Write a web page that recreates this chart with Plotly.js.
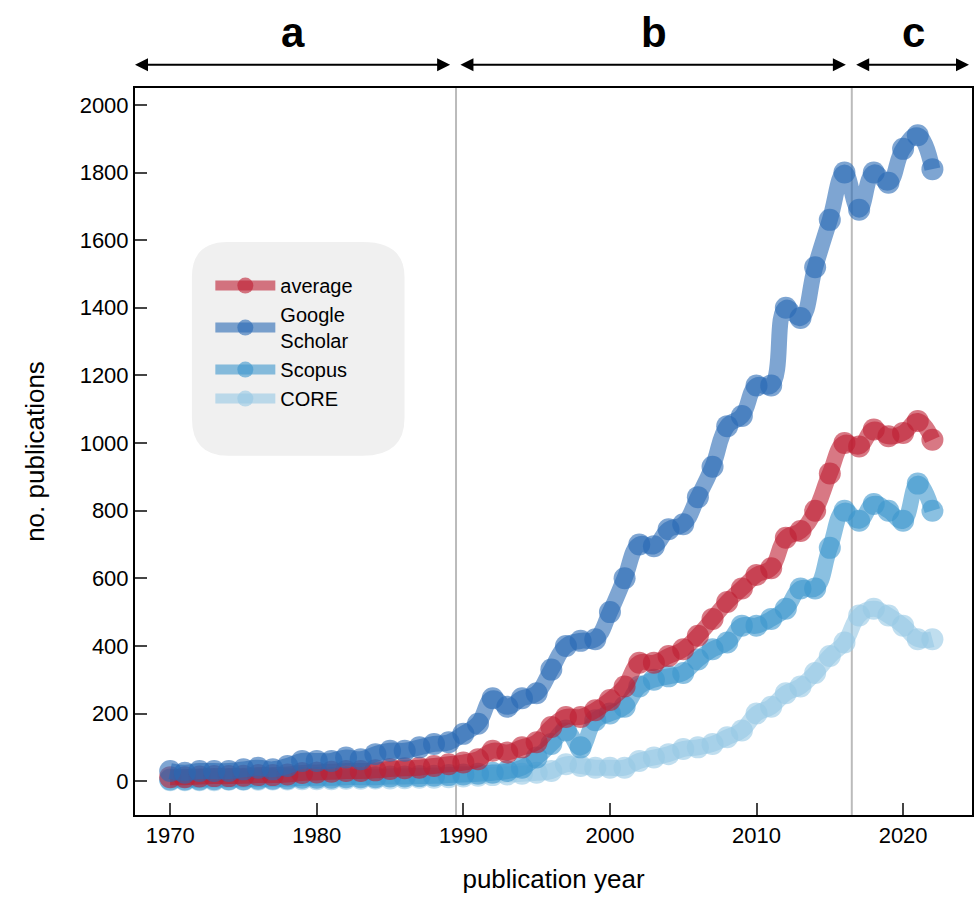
<!DOCTYPE html>
<html>
<head>
<meta charset="utf-8">
<script src="https://cdn.plot.ly/plotly-3.0.1.min.js"></script>
<style>body{margin:0}#chart{width:975px;height:924px}</style>
</head>
<body>
<div id="chart"></div>
<script>
const years = [];
for (let y = 1970; y <= 2022; y++) years.push(y);

const scholar = [30,25,30,30,30,35,40,35,45,60,60,60,70,65,80,90,90,100,110,115,
  140,170,245,220,245,260,330,400,415,420,500,600,700,695,745,760,840,930,1050,1080,
  1170,1170,1400,1370,1520,1660,1800,1690,1800,1770,1870,1910,1810];
const average = [12,12,14,15,15,16,18,18,20,24,26,28,30,30,32,36,38,40,45,50,
  55,65,90,85,100,115,160,190,190,210,240,280,350,350,370,390,430,480,530,570,
  610,630,720,740,800,910,1000,990,1040,1020,1030,1065,1010];
const scopus = [5,5,5,6,6,6,7,7,8,10,10,10,12,12,12,14,14,15,16,18,
  20,22,25,30,40,70,110,150,100,180,200,220,280,300,310,320,360,390,410,460,
  460,480,510,570,570,690,800,770,820,800,770,880,800];
const core = [3,3,3,3,4,4,4,5,5,6,6,6,7,7,8,8,9,10,10,12,
  14,16,18,20,22,25,30,50,45,40,40,40,60,70,80,95,100,110,130,150,
  200,220,260,280,320,370,410,490,510,490,460,420,420];

const names = ["average", "Google<br>Scholar", "Scopus", "CORE"];
const colors = ["rgba(190,30,50,0.6)", "rgba(40,105,180,0.6)", "rgba(60,150,205,0.6)", "rgba(150,200,228,0.6)"];
const series = [average, scholar, scopus, core];

const data = [];
// draw order: CORE at bottom, then Scopus, average, Scholar on top
[3, 2, 0, 1].forEach(i => {
  data.push({
    x: years, y: series[i], name: names[i], type: "scatter", mode: "lines+markers",
    line: {color: colors[i], width: 16, shape: "spline", smoothing: 1.3},
    marker: {color: colors[i], size: 22},
    legendrank: i
  });
});

const annotations = [
  {x: 1967.6, ax: 1989.2, lbl: "a", lx: 1978.4},
  {x: 1989.8, ax: 2016.2, lbl: "b", lx: 2003.0},
  {x: 2016.8, ax: 2024.6, lbl: "c", lx: 2020.7}
].flatMap(a => [
  {xref: "x", yref: "paper", axref: "x", ayref: "pixel", x: a.x, y: 1.032, ax: a.ax, ay: 0,
   text: "", showarrow: true, arrowhead: 2, startarrowhead: 2, arrowside: "end+start",
   arrowwidth: 2, arrowsize: 1.3, startarrowsize: 1.3, arrowcolor: "#000"},
  {xref: "x", yref: "paper", x: a.lx, y: 1.112, text: "<b>" + a.lbl + "</b>", showarrow: false,
   font: {size: 42, color: "#000", family: "Liberation Sans, Arial"}}
]);

const layout = {
  width: 975, height: 924,
  margin: {l: 135, r: 3, t: 88, b: 109},
  paper_bgcolor: "#fff", plot_bgcolor: "#fff",
  font: {family: "Liberation Sans, Arial", size: 22, color: "#000"},
  showlegend: true,
  legend: {x: 0.09, y: 0.755, xanchor: "left", yanchor: "top", bgcolor: "rgba(0,0,0,0)",
    font: {size: 20}, itemwidth: 60, tracegroupgap: 14},
  xaxis: {range: [1967.6, 2024.7], tickvals: [1970, 1980, 1990, 2000, 2010, 2020],
    ticks: "inside", ticklen: 12, tickwidth: 2, showgrid: false, zeroline: false,
    showline: true, linewidth: 2, linecolor: "#000", mirror: true,
    title: {text: "publication year", font: {size: 26}, standoff: 22}},
  yaxis: {range: [-100, 2050], tickvals: [0,200,400,600,800,1000,1200,1400,1600,1800,2000],
    ticks: "inside", ticklen: 12, tickwidth: 2, showgrid: false, zeroline: false,
    showline: true, linewidth: 2, linecolor: "#000", mirror: true,
    title: {text: "no. publications", font: {size: 26}, standoff: 28}},
  shapes: [
    {type: "line", xref: "x", yref: "paper", x0: 1989.5, x1: 1989.5, y0: 0, y1: 1,
     line: {color: "#bbb", width: 2}, layer: "below"},
    {type: "line", xref: "x", yref: "paper", x0: 2016.5, x1: 2016.5, y0: 0, y1: 1,
     line: {color: "#bbb", width: 2}, layer: "below"},
    {type: "path", xref: "paper", yref: "paper", layer: "below",
     path: "M 0.111 0.788 L 0.272 0.788 Q 0.322 0.788 0.322 0.74 L 0.322 0.546 Q 0.322 0.494 0.272 0.494 L 0.111 0.494 Q 0.068 0.494 0.068 0.546 L 0.068 0.74 Q 0.068 0.788 0.111 0.788 Z",
     fillcolor: "#f0f0f0", line: {width: 0}}
  ],
  annotations: annotations
};

Plotly.newPlot("chart", data, layout, {displayModeBar: false});
</script>
</body>
</html>
